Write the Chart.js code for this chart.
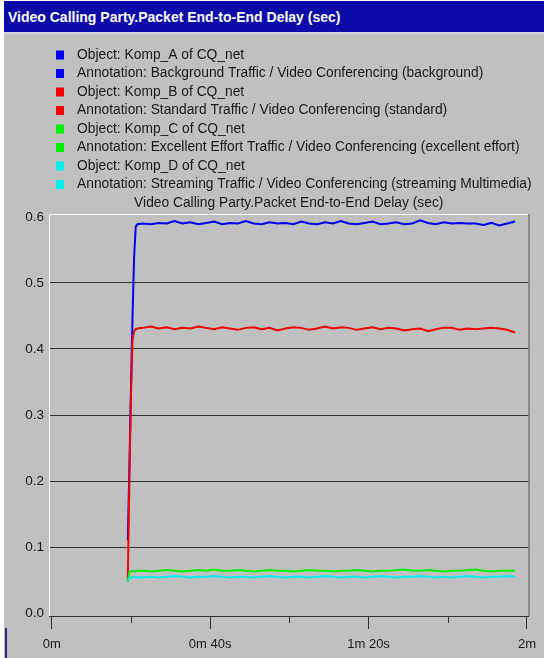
<!DOCTYPE html>
<html>
<head>
<meta charset="utf-8">
<script src="https://cdn.jsdelivr.net/npm/chart.js@4/dist/chart.umd.min.js"></script>
<style>
  html, body { margin: 0; padding: 0; }
  body { width: 544px; height: 658px; background: #c0c0c0; position: relative; overflow: hidden; }
  #edge { position: absolute; left: 0; top: 0; width: 4px; height: 658px; background: #ffffff; }
  #topedge { position: absolute; left: 0; top: 0; width: 544px; height: 1px; background: #ffffff; }
  #titlebar {
    position: absolute; left: 4px; top: 1px; width: 540px; height: 33px;
    background: #0a0aa8; border-bottom: 2px solid #d4d4dc;
    color: #ffffff; font: bold 14px "Liberation Sans", Arial, sans-serif;
    line-height: 33px; padding-left: 4px; box-sizing: border-box; white-space: nowrap;
  }
  #frame { position: absolute; left: 5px; top: 628px; width: 2px; height: 30px; background: #2a2a80; }
  canvas { position: absolute; left: 0; top: 0; }
</style>
</head>
<body>
<div id="edge"></div>
<div id="topedge"></div>
<div id="titlebar">Video Calling Party.Packet End-to-End Delay (sec)</div>
<div id="frame"></div>
<canvas id="chart" width="544" height="658"></canvas>
<script>
// Sample times (seconds of simulated time)
const timesSec = [
  19.2, 19.6, 20.0, 20.4, 20.8, 21.2, 21.6,
  23, 25, 27, 29, 31, 33, 35, 37,
  39, 41, 43, 45, 47, 49, 51, 53,
  55, 57, 59, 61, 63, 65, 67, 69,
  71, 73, 75, 77, 79, 81, 83, 85,
  87, 89, 91, 93, 95, 97, 99, 101,
  103, 105, 107, 109, 111, 113, 115, 117
];

// Packet end-to-end delay (sec) per queue
const delayKompA = [
  0.11, 0.22, 0.34, 0.45, 0.54, 0.585, 0.589,
  0.590, 0.589, 0.591, 0.590, 0.594, 0.590, 0.592, 0.589,
  0.591, 0.593, 0.589, 0.591, 0.590, 0.594, 0.590, 0.589,
  0.592, 0.590, 0.591, 0.589, 0.593, 0.590, 0.589, 0.592,
  0.590, 0.594, 0.590, 0.589, 0.591, 0.593, 0.589, 0.590,
  0.592, 0.589, 0.590, 0.595, 0.591, 0.589, 0.592, 0.590,
  0.591, 0.590, 0.590, 0.588, 0.591, 0.587, 0.590, 0.593
];
const delayKompB = [
  0.05, 0.20, 0.33, 0.415, 0.427, 0.430, 0.431,
  0.432, 0.434, 0.431, 0.433, 0.430, 0.432, 0.431, 0.434,
  0.432, 0.430, 0.433, 0.431, 0.429, 0.432, 0.433, 0.430,
  0.432, 0.428, 0.431, 0.433, 0.432, 0.429, 0.431, 0.434,
  0.431, 0.433, 0.432, 0.429, 0.431, 0.433, 0.430, 0.432,
  0.431, 0.428, 0.430, 0.431, 0.427, 0.430, 0.432, 0.432,
  0.429, 0.431, 0.430, 0.431, 0.432, 0.431, 0.429, 0.425
];
const delayKompC = [
  0.047, 0.062, 0.063, 0.064, 0.063, 0.063, 0.064,
  0.064, 0.063, 0.064, 0.065, 0.064, 0.063, 0.064, 0.065,
  0.064, 0.066, 0.064, 0.064, 0.065, 0.064, 0.063, 0.064,
  0.065, 0.064, 0.064, 0.063, 0.064, 0.065, 0.064, 0.064,
  0.063, 0.064, 0.064, 0.065, 0.064, 0.063, 0.064, 0.064,
  0.065, 0.066, 0.064, 0.064, 0.065, 0.064, 0.063, 0.064,
  0.064, 0.065, 0.066, 0.064, 0.063, 0.064, 0.064, 0.064
];
const delayKompD = [
  0.050, 0.053, 0.054, 0.055, 0.054, 0.055, 0.054,
  0.054, 0.055, 0.054, 0.055, 0.056, 0.055, 0.054, 0.055,
  0.055, 0.056, 0.055, 0.054, 0.055, 0.055, 0.054, 0.055,
  0.056, 0.055, 0.054, 0.055, 0.055, 0.054, 0.055, 0.056,
  0.055, 0.054, 0.055, 0.055, 0.054, 0.055, 0.056, 0.055,
  0.054, 0.055, 0.055, 0.056, 0.055, 0.054, 0.055, 0.054,
  0.055, 0.056, 0.055, 0.054, 0.055, 0.055, 0.056, 0.055
];

// Legend entries (two lines per object: object name and its annotation)
const legendLines = [
  'Object: Komp_A of CQ_net',
  'Annotation: Background Traffic / Video Conferencing (background)',
  'Object: Komp_B of CQ_net',
  'Annotation: Standard Traffic / Video Conferencing (standard)',
  'Object: Komp_C of CQ_net',
  'Annotation: Excellent Effort Traffic / Video Conferencing (excellent effort)',
  'Object: Komp_D of CQ_net',
  'Annotation: Streaming Traffic / Video Conferencing (streaming Multimedia)'
];
const seriesColors = ['#0000f0', '#f00000', '#00f000', '#00f0f0'];
const plotTitle = 'Video Calling Party.Packet End-to-End Delay (sec)';

// Axis ticks
const xTickSeconds = [0, 20, 40, 60, 80, 100, 120];
const xTickLabels = { 0: '0m', 40: '0m 40s', 80: '1m 20s', 120: '2m' };
const yTickValues = [0, 0.1, 0.2, 0.3, 0.4, 0.5, 0.6];

const FONT = '"Liberation Sans", Arial, sans-serif';
const toPoints = vals => timesSec.map((t, i) => ({ x: t, y: vals[i] }));

// Legend block and plot caption, drawn above the plot
const legendPlugin = {
  id: 'stackLegend',
  afterDraw(chart) {
    const ctx = chart.ctx;
    ctx.save();
    ctx.font = '13.8px ' + FONT;
    ctx.textBaseline = 'middle';
    legendLines.forEach((txt, i) => {
      const y = 55 + i * 18.5;
      ctx.fillStyle = seriesColors[Math.floor(i / 2)];
      ctx.fillRect(56, y - 4.5, 8, 9);
      ctx.fillStyle = '#1a1a1a';
      ctx.textAlign = 'left';
      ctx.fillText(txt, 77, y);
    });
    const a = chart.chartArea;
    ctx.fillStyle = '#1a1a1a';
    ctx.textAlign = 'center';
    ctx.fillText(plotTitle, (a.left + a.right) / 2, 203);
    ctx.restore();
  }
};

// Plot frame: white top/left edges, dark right edge, short minor ticks on time axis
const framePlugin = {
  id: 'plotFrame',
  beforeDatasetsDraw(chart) {
    const ctx = chart.ctx;
    const a = chart.chartArea;
    ctx.save();
    ctx.lineWidth = 1;
    ctx.strokeStyle = '#f4f4f4';
    ctx.beginPath();
    ctx.moveTo(a.left + 0.5, a.bottom);
    ctx.lineTo(a.left + 0.5, a.top + 0.5);
    ctx.lineTo(a.right, a.top + 0.5);
    ctx.stroke();
    ctx.strokeStyle = '#505050';
    ctx.beginPath();
    ctx.moveTo(a.right + 0.5, a.top);
    ctx.lineTo(a.right + 0.5, a.bottom);
    ctx.stroke();
    const xs = chart.scales.x;
    ctx.strokeStyle = '#303030';
    xTickSeconds.forEach(v => {
      if (xTickLabels[v] === undefined) {
        const px = Math.round(xs.getPixelForValue(v)) + 0.5;
        ctx.beginPath();
        ctx.moveTo(px, a.bottom);
        ctx.lineTo(px, a.bottom + 7);
        ctx.stroke();
      }
    });
    ctx.restore();
  }
};

new Chart(document.getElementById('chart'), {
  type: 'line',
  data: {
    datasets: [
      { label: 'Komp_D', data: toPoints(delayKompD), borderColor: seriesColors[3] },
      { label: 'Komp_C', data: toPoints(delayKompC), borderColor: seriesColors[2] },
      { label: 'Komp_B', data: toPoints(delayKompB), borderColor: seriesColors[1] },
      { label: 'Komp_A', data: toPoints(delayKompA), borderColor: seriesColors[0] }
    ]
  },
  options: {
    responsive: false,
    animation: false,
    events: [],
    layout: { padding: { top: 214, right: 13, left: 0, bottom: 0 } },
    elements: {
      line: { borderWidth: 2, tension: 0, fill: false },
      point: { radius: 0 }
    },
    plugins: { legend: { display: false }, title: { display: false }, tooltip: { enabled: false } },
    scales: {
      x: {
        type: 'linear',
        min: -0.7,
        max: 120.4,
        afterBuildTicks: s => { s.ticks = xTickSeconds.map(v => ({ value: v })); },
        afterFit: s => { s.height = 42; },
        border: { display: true, color: '#303030', width: 1 },
        grid: {
          drawOnChartArea: false,
          drawTicks: true,
          tickLength: 13,
          tickWidth: 1,
          tickColor: c => (xTickLabels[c.tick && c.tick.value] !== undefined ? '#303030' : 'rgba(0,0,0,0)')
        },
        ticks: {
          autoSkip: false,
          maxRotation: 0,
          padding: 8,
          color: '#1a1a1a',
          font: { family: FONT, size: 13 },
          callback: v => (xTickLabels[v] !== undefined ? xTickLabels[v] : '')
        }
      },
      y: {
        min: -0.0045,
        max: 0.6045,
        afterBuildTicks: s => { s.ticks = yTickValues.map(v => ({ value: v })); },
        afterFit: s => { s.width = 49; },
        border: { display: false },
        grid: {
          drawTicks: false,
          lineWidth: 1,
          color: c => {
            const v = c.tick ? c.tick.value : null;
            return (v === 0 || v === 0.6) ? 'rgba(0,0,0,0)' : '#303030';
          }
        },
        ticks: {
          padding: 5,
          color: '#1a1a1a',
          font: { family: FONT, size: 13.5 },
          callback: v => v.toFixed(1)
        }
      }
    }
  },
  plugins: [legendPlugin, framePlugin]
});
</script>
</body>
</html>
